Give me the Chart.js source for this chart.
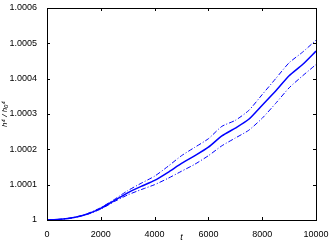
<!DOCTYPE html>
<html>
<head>
<meta charset="utf-8">
<script src="https://cdn.jsdelivr.net/npm/chart.js@4"></script>
<style>
  html, body { margin: 0; padding: 0; background: #fff; }
  #wrap { width: 332px; height: 243px; }
</style>
</head>
<body>
<div id="wrap"><canvas id="chartCanvas" width="332" height="243"></canvas></div>
<script>
// time values
const times = [0, 500, 1000, 1500, 2000, 2500, 3000, 3500, 4000, 4500, 5000,
    5500, 6000, 6500, 7000, 7500, 8000, 8500, 9000, 9500, 10000];
// h^4/h0^4 : mean and upper/lower bounds
const meanValues = [1, 1.000002, 1.000007, 1.000017, 1.000033, 1.000055, 1.000077, 1.000095, 1.000112, 1.000135, 1.00016,
    1.000182, 1.000206, 1.000238, 1.00026, 1.000285, 1.000325, 1.000365, 1.000408, 1.00044, 1.000478];
const upperValues = [1, 1.000002, 1.000007, 1.000018, 1.000035, 1.000058, 1.000083, 1.000104, 1.000124, 1.000152, 1.000182,
    1.000206, 1.00023, 1.000265, 1.000282, 1.00031, 1.000355, 1.0004, 1.000445, 1.000475, 1.000509];
const lowerValues = [1, 1.000002, 1.000007, 1.000016, 1.000031, 1.000052, 1.000071, 1.000086, 1.0001, 1.000118, 1.000138,
    1.000158, 1.000182, 1.00021, 1.000232, 1.000254, 1.000288, 1.00033, 1.000374, 1.000408, 1.00044];
const xTicks = [0, 2000, 4000, 6000, 8000, 10000];
const yTicks = [1, 1.0001, 1.0002, 1.0003, 1.0004, 1.0005, 1.0006];

const blue = "rgb(0,0,255)";
const toPts = vals => times.map((t, i) => ({ x: t, y: vals[i] }));

// matlab style inside ticks + box
const boxTicks = {
    id: "boxTicks",
    afterDraw(chart) {
        const { ctx, chartArea: a, scales } = chart;
        ctx.save();
        ctx.strokeStyle = "#000";
        ctx.lineWidth = 1;
        ctx.strokeRect(a.left + 0.5, a.top + 0.5, a.right - a.left, a.bottom - a.top);
        ctx.beginPath();
        xTicks.forEach(v => {
            const px = Math.round(scales.x.getPixelForValue(v)) + 0.5;
            ctx.moveTo(px, a.bottom); ctx.lineTo(px, a.bottom - 3);
            ctx.moveTo(px, a.top); ctx.lineTo(px, a.top + 3);
        });
        yTicks.forEach(v => {
            const py = Math.round(scales.y.getPixelForValue(v)) + 0.5;
            ctx.moveTo(a.left, py); ctx.lineTo(a.left + 3, py);
            ctx.moveTo(a.right, py); ctx.lineTo(a.right - 3, py);
        });
        ctx.stroke();
        ctx.restore();
    }
};

Chart.defaults.font.family = "'Liberation Sans', Arial, sans-serif";
Chart.defaults.font.size = 9;
Chart.defaults.color = "#000";

const ctx = document.getElementById("chartCanvas").getContext("2d");
new Chart(ctx, {
    type: "line",
    data: {
        datasets: [
            { data: toPts(upperValues), borderColor: blue, borderWidth: 1, borderDash: [5, 2, 1, 2], pointRadius: 0, tension: 0.2 },
            { data: toPts(meanValues), borderColor: blue, borderWidth: 1.5, pointRadius: 0, tension: 0.2 },
            { data: toPts(lowerValues), borderColor: blue, borderWidth: 1, borderDash: [5, 2, 1, 2], pointRadius: 0, tension: 0.2 }
        ]
    },
    options: {
        responsive: false,
        animation: false,
        layout: { padding: { top: 8, right: 16, left: 0, bottom: 0 } },
        plugins: { legend: { display: false }, tooltip: { enabled: false } },
        scales: {
            x: {
                type: "linear", min: 0, max: 10000,
                afterBuildTicks: s => { s.ticks = xTicks.map(v => ({ value: v })); },
                grid: { display: false },
                border: { display: false },
                ticks: { padding: 1, maxRotation: 0, callback: v => String(v) },
                title: { display: true, text: "t", font: { style: "italic", size: 9 }, padding: 0 },
                afterFit: s => { s.height = 23; }
            },
            y: {
                type: "linear", min: 1, max: 1.0006,
                afterBuildTicks: s => { s.ticks = yTicks.map(v => ({ value: v })); },
                grid: { display: false },
                border: { display: false },
                ticks: { padding: 2, callback: v => String(Math.round(v * 1e4) / 1e4) },
                title: { display: true, text: "h⁴ / h₀⁴", font: { style: "italic", size: 8 }, padding: 0 },
                afterFit: s => { s.width = 47; }
            }
        }
    },
    plugins: [boxTicks]
});
</script>
</body>
</html>
